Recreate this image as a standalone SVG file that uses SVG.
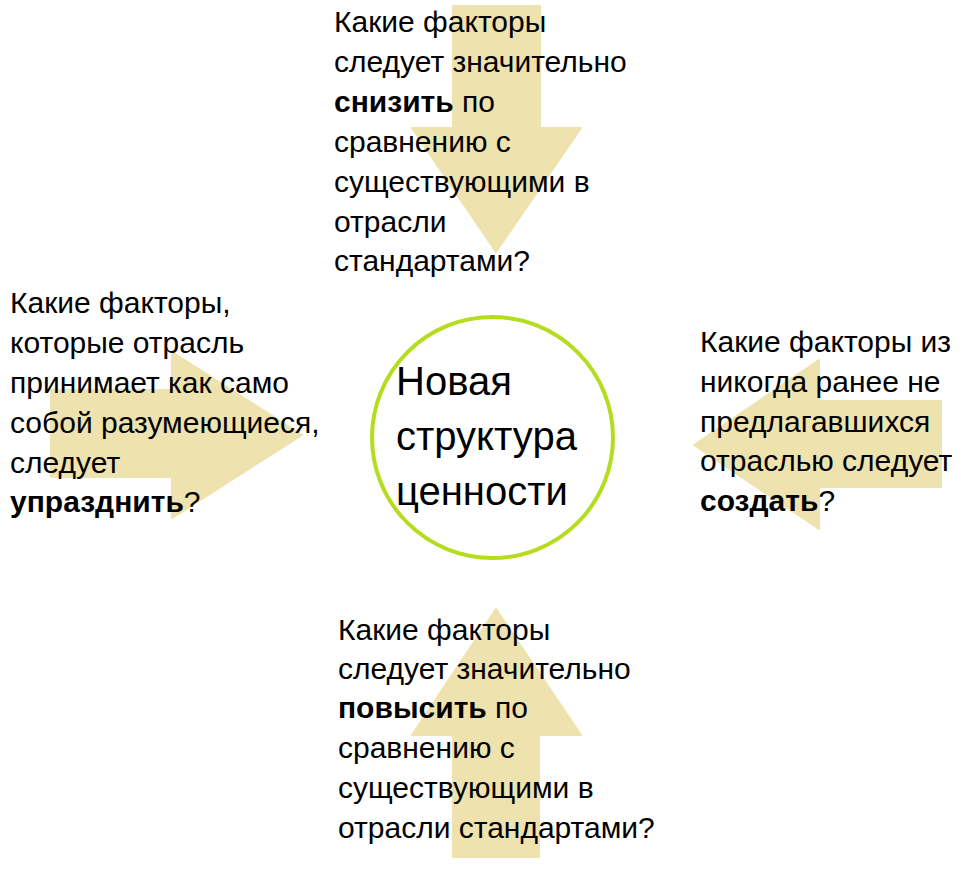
<svg xmlns="http://www.w3.org/2000/svg" width="977" height="877" viewBox="0 0 977 877">
<style>
.arrow{fill:#EEE2AE;stroke:#EEE2AE;stroke-width:2;stroke-linejoin:round}
.t{font-family:"Liberation Sans",Arial,sans-serif;font-size:30px;fill:#000}
.b{font-weight:bold}
.c{font-family:"Liberation Sans",Arial,sans-serif;font-size:40px;fill:#000}
.ring{fill:#fff;stroke:#B5DC1E;stroke-width:4}
</style>
<rect width="977" height="877" fill="#fff"/>
<g id="connectors">
<polygon class="arrow" points="453,6 540,6 540,128 581,128 496,252 412,128 453,128"/>
<polygon class="arrow" points="51,390 172,390 172,352 302,435 172,518 172,477 51,477"/>
<polygon class="arrow" points="941,401 819,401 819,360 694,445 819,529 819,487 941,487"/>
<polygon class="arrow" points="496,609 581,735 539,735 539,857 453,857 453,735 412,735"/>
</g>
<g id="center">
<circle class="ring" cx="492.5" cy="437.5" r="120.5"/>
<text class="c" x="396" y="395">Новая</text>
<text class="c" x="396" y="450">структура</text>
<text class="c" x="396" y="505">ценности</text>
</g>
<g id="top">
<text class="t" x="334" y="32">Какие факторы</text>
<text class="t" x="334" y="72">следует значительно</text>
<text class="t" x="334" y="112"><tspan class="b">снизить</tspan> по</text>
<text class="t" x="334" y="152">сравнению с</text>
<text class="t" x="334" y="192">существующими в</text>
<text class="t" x="334" y="232">отрасли</text>
<text class="t" x="334" y="271">стандартами?</text>
</g>
<g id="left">
<text class="t" x="10" y="313">Какие факторы,</text>
<text class="t" x="10" y="353">которые отрасль</text>
<text class="t" x="10" y="393">принимает как само</text>
<text class="t" x="10" y="433">собой разумеющиеся,</text>
<text class="t" x="10" y="473">следует</text>
<text class="t" x="10" y="512"><tspan class="b">упразднить</tspan>?</text>
</g>
<g id="right">
<text class="t" x="700" y="352">Какие факторы из</text>
<text class="t" x="700" y="392">никогда ранее не</text>
<text class="t" x="700" y="432">предлагавшихся</text>
<text class="t" x="700" y="471">отраслью следует</text>
<text class="t" x="700" y="511"><tspan class="b">создать</tspan>?</text>
</g>
<g id="bottom">
<text class="t" x="338" y="640">Какие факторы</text>
<text class="t" x="338" y="679">следует значительно</text>
<text class="t" x="338" y="718"><tspan class="b">повысить</tspan> по</text>
<text class="t" x="338" y="758">сравнению с</text>
<text class="t" x="338" y="798">существующими в</text>
<text class="t" x="338" y="838">отрасли стандартами?</text>
</g>
</svg>
